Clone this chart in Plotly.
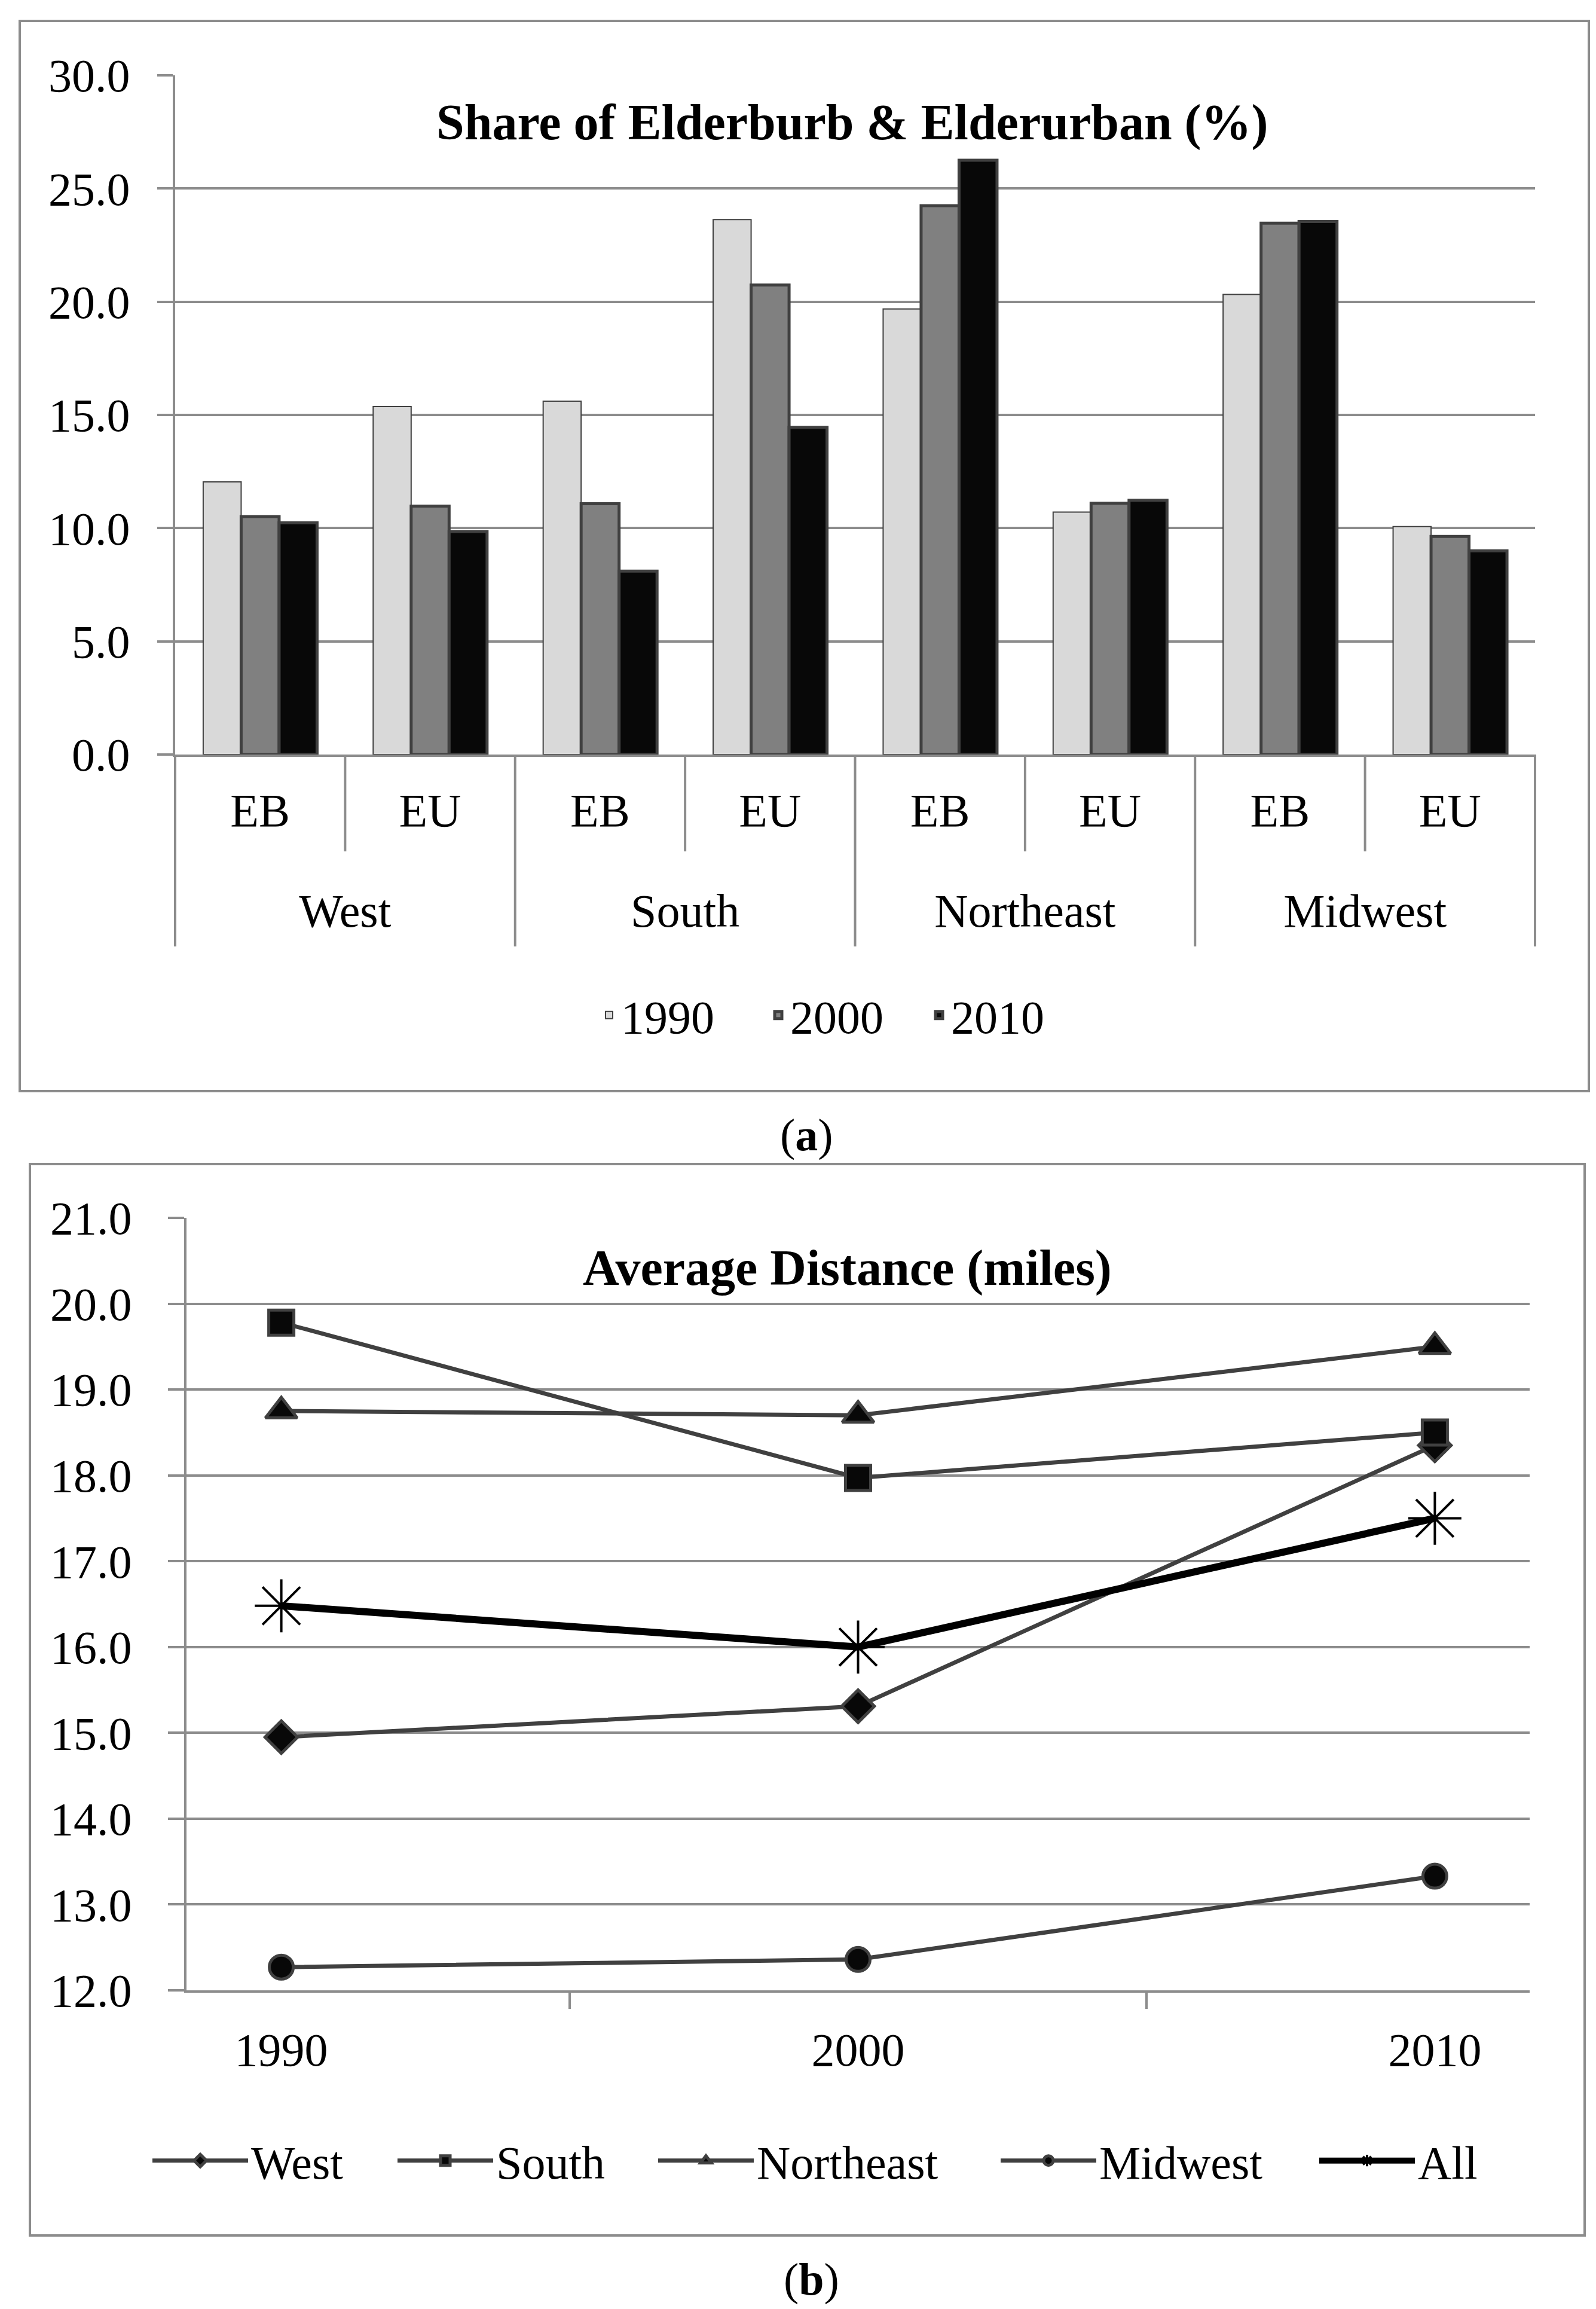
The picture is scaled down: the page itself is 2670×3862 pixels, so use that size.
import plotly.graph_objects as go

# ---------------- data ----------------
regions = ["West", "South", "Northeast", "Midwest"]
types = ["EB", "EU"]
bar_years = ["1990", "2000", "2010"]
share_1990 = [12.04, 15.37, 15.61, 23.63, 19.68, 10.71, 20.32, 10.07]
share_2000 = [10.51, 10.97, 11.08, 20.74, 24.24, 11.10, 23.47, 9.63]
share_2010 = [10.23, 9.85, 8.10, 14.45, 26.25, 11.23, 23.54, 9.00]

line_years = ["1990", "2000", "2010"]
dist_west = [14.95, 15.31, 18.35]
dist_south = [19.78, 17.97, 18.50]
dist_northeast = [18.75, 18.70, 19.50]
dist_midwest = [12.27, 12.36, 13.33]
dist_all = [16.48, 16.00, 17.50]

# ---------------- styling ----------------
W, H = 2670, 3862
FONT = "Liberation Serif"
GRID = "#8c8c8c"
DARK = "#404040"
FS = 78


def px_x(v):
    return v / W


def px_y(v):
    return 1 - v / H


xa_dom = [px_x(285), px_x(2560)]
ya_dom = [px_y(1254), px_y(118)]
xb_dom = [px_x(304), px_x(2551)]
yb_dom = [px_y(3321), px_y(2029)]

fig = go.Figure()

# outer level labels get a blank first line so they sit lower, as in the original
multi_x = [["<br>" + r for r in regions for t in types],
           [t for r in regions for t in types]]
bar_styles = [
    ("1990", share_1990, "#d9d9d9", 2, 238),
    ("2000", share_2000, "#808080", 5, 224),
    ("2010", share_2010, "#080808", 5, None),
]
for name, vals, col, lw, lwid in bar_styles:
    kw = dict(legendwidth=lwid) if lwid else {}
    fig.add_trace(go.Bar(
        x=multi_x, y=vals, name=name,
        marker=dict(color=col, line=dict(color=DARK, width=lw)),
        xaxis="x", yaxis="y", legend="legend", **kw))

line_series = [
    ("West", dist_west, "diamond", 42, 235),
    ("South", dist_south, "square", 42, 261),
    ("Northeast", dist_northeast, "triangle-up", 46, 398),
    ("Midwest", dist_midwest, "circle", 40, 358),
]
for name, vals, sym, size, lwid in line_series:
    fig.add_trace(go.Scatter(
        x=line_years, y=vals, name=name, mode="lines+markers",
        line=dict(color=DARK, width=7),
        marker=dict(symbol=sym, size=size, color="#080808",
                    line=dict(color=DARK, width=5)),
        xaxis="x2", yaxis="y2", legend="legend2", legendwidth=lwid))

fig.add_trace(go.Scatter(
    x=line_years, y=dist_all, name="All", mode="lines+markers",
    line=dict(color="#000000", width=12),
    marker=dict(symbol="asterisk-open", size=74, color="#000000",
                line=dict(color="#000000", width=4)),
    xaxis="x2", yaxis="y2", legend="legend2"))

axis_common = dict(
    showline=True, linecolor=GRID, linewidth=4, automargin=False,
    tickfont=dict(family=FONT, size=FS, color="black"),
)

fig.update_layout(
    width=W, height=H,
    margin=dict(l=0, r=0, t=0, b=0, pad=0, autoexpand=False),
    paper_bgcolor="white", plot_bgcolor="white",
    font=dict(family=FONT, size=FS, color="black"),
    barmode="group", bargap=0.33, bargroupgap=0,
    xaxis=dict(domain=xa_dom, anchor="y", type="multicategory",
               ticks="", showdividers=False, showgrid=False,
               ticklabelstandoff=22, **axis_common),
    yaxis=dict(domain=ya_dom, anchor="x", range=[0, 30], dtick=5,
               tickformat=".1f", ticks="outside", ticklen=26,
               tickcolor=GRID, tickwidth=4, showgrid=True,
               gridcolor=GRID, gridwidth=4, zeroline=False,
               ticklabelstandoff=30, **axis_common),
    xaxis2=dict(domain=xb_dom, anchor="y2", type="category",
                ticks="outside", tickson="boundaries", ticklen=27,
                tickcolor=GRID, tickwidth=4, showgrid=False,
                ticklabelstandoff=28, **axis_common),
    yaxis2=dict(domain=yb_dom, anchor="x2", range=[12, 21], dtick=1,
                tickformat=".1f", ticks="outside", ticklen=27,
                tickcolor=GRID, tickwidth=4, showgrid=True,
                gridcolor=GRID, gridwidth=4, zeroline=False,
                ticklabelstandoff=45, **axis_common),
    legend=dict(orientation="h", x=px_x(991), y=px_y(1690),
                xanchor="left", yanchor="middle",
                font=dict(family=FONT, size=FS), bgcolor="rgba(0,0,0,0)"),
    legend2=dict(orientation="h", x=px_x(242), y=px_y(3606),
                 xanchor="left", yanchor="middle", itemwidth=160,
                 font=dict(family=FONT, size=FS), bgcolor="rgba(0,0,0,0)"),
    showlegend=True,
)

shapes = []
# outer panel boxes
shapes.append(dict(type="rect", xref="paper", yref="paper",
                   x0=px_x(25), x1=px_x(2650), y0=px_y(1817), y1=px_y(27),
                   line=dict(color=GRID, width=4), fillcolor="rgba(0,0,0,0)"))
shapes.append(dict(type="rect", xref="paper", yref="paper",
                   x0=px_x(42), x1=px_x(2643), y0=px_y(3731), y1=px_y(1939),
                   line=dict(color=GRID, width=4), fillcolor="rgba(0,0,0,0)"))
# category dividers below bar axis
n_cat = len(regions) * len(types)
for k in range(n_cat + 1):
    xpos = xa_dom[0] + k / n_cat * (xa_dom[1] - xa_dom[0])
    long_div = (k % len(types) == 0)
    shapes.append(dict(type="line", xref="paper", yref="paper",
                       x0=xpos, x1=xpos, y0=px_y(1254),
                       y1=px_y(1575 if long_div else 1416),
                       line=dict(color=GRID, width=4)))
fig.update_layout(shapes=shapes)

ann = dict(xref="paper", yref="paper", showarrow=False,
           xanchor="center", yanchor="middle")
fig.add_annotation(text="<b>Share of Elderburb &amp; Elderurban (%)</b>",
                   x=px_x(1418), y=px_y(197),
                   font=dict(family=FONT, size=84, color="black"), **ann)
fig.add_annotation(text="<b>Average Distance (miles)</b>",
                   x=px_x(1409), y=px_y(2113),
                   font=dict(family=FONT, size=84, color="black"), **ann)
fig.add_annotation(text="(<b>a</b>)", x=px_x(1341), y=px_y(1890),
                   font=dict(family=FONT, size=76, color="black"), **ann)
fig.add_annotation(text="(<b>b</b>)", x=px_x(1349), y=px_y(3804),
                   font=dict(family=FONT, size=76, color="black"), **ann)

fig.write_html("out.html")
